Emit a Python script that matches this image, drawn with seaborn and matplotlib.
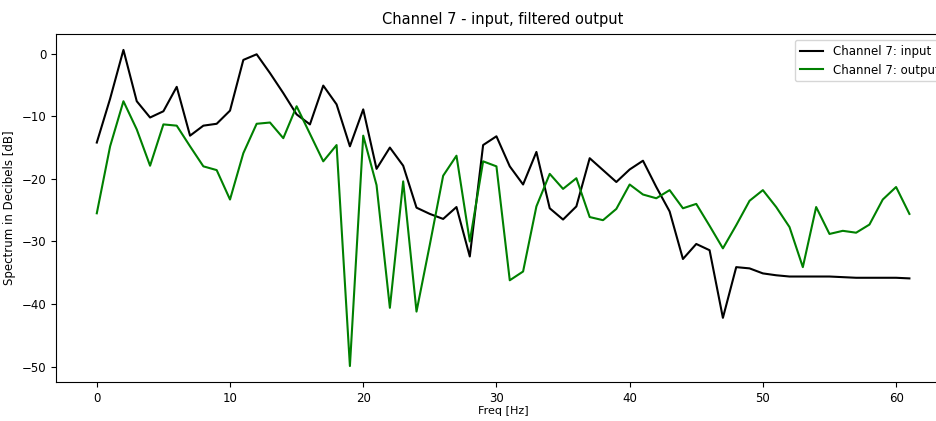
import pandas as pd
import seaborn as sns
import matplotlib.pyplot as plt

freq = list(range(62))

channel_input = [
    -14.2, -7.2, 0.6, -7.6, -10.2, -9.2, -5.3, -13.1, -11.5, -11.2,
    -9.1, -1.0, -0.1, -3.1, -6.3, -9.7, -11.3, -5.1, -8.1, -14.8,
    -8.9, -18.4, -15.0, -17.9, -24.6, -25.6, -26.4, -24.5, -32.4, -14.6,
    -13.2, -18.0, -20.9, -15.7, -24.7, -26.5, -24.4, -16.7, -18.6, -20.5,
    -18.5, -17.1, -21.3, -25.2, -32.8, -30.4, -31.4, -42.2, -34.1, -34.3,
    -35.1, -35.4, -35.6, -35.6, -35.6, -35.6, -35.7, -35.8, -35.8, -35.8,
    -35.8, -35.9,
]

channel_output = [
    -25.5, -14.8, -7.6, -12.1, -17.9, -11.3, -11.5, -14.8, -18.0, -18.6,
    -23.3, -15.9, -11.2, -11.0, -13.5, -8.4, -12.8, -17.2, -14.6, -49.9,
    -13.1, -21.0, -40.6, -20.4, -41.2, -30.5, -19.5, -16.3, -30.0, -17.2,
    -18.0, -36.2, -34.8, -24.4, -19.2, -21.6, -19.9, -26.1, -26.6, -24.8,
    -20.9, -22.5, -23.1, -21.8, -24.7, -24.0, -27.5, -31.1, -27.4, -23.5,
    -21.8, -24.5, -27.7, -34.1, -24.5, -28.8, -28.3, -28.6, -27.3, -23.3,
    -21.3, -25.6,
]

df = pd.DataFrame({
    "freq": freq,
    "input": channel_input,
    "output": channel_output,
})

fig = plt.figure(figsize=(9.36, 4.21), dpi=100)
# the axes run past the right edge, as in the cropped original
ax = fig.add_axes([0.060, 0.093, 0.955, 0.826])

sns.lineplot(x="freq", y="input", data=df, ax=ax,
             color="black", linewidth=1.5, label="Channel 7: input")
sns.lineplot(x="freq", y="output", data=df, ax=ax,
             color="green", linewidth=1.5, label="Channel 7: output")

ax.set_title("Channel 7 - input, filtered output", fontsize=10.5, pad=7)
ax.set_xlabel("Freq [Hz]", fontsize=8, labelpad=1)
ax.set_ylabel("Spectrum in Decibels [dB]", fontsize=8.5)
ax.tick_params(labelsize=8.5)
ax.legend(loc="upper right", fontsize=8.5)

fig.savefig("out.png", dpi=100)
